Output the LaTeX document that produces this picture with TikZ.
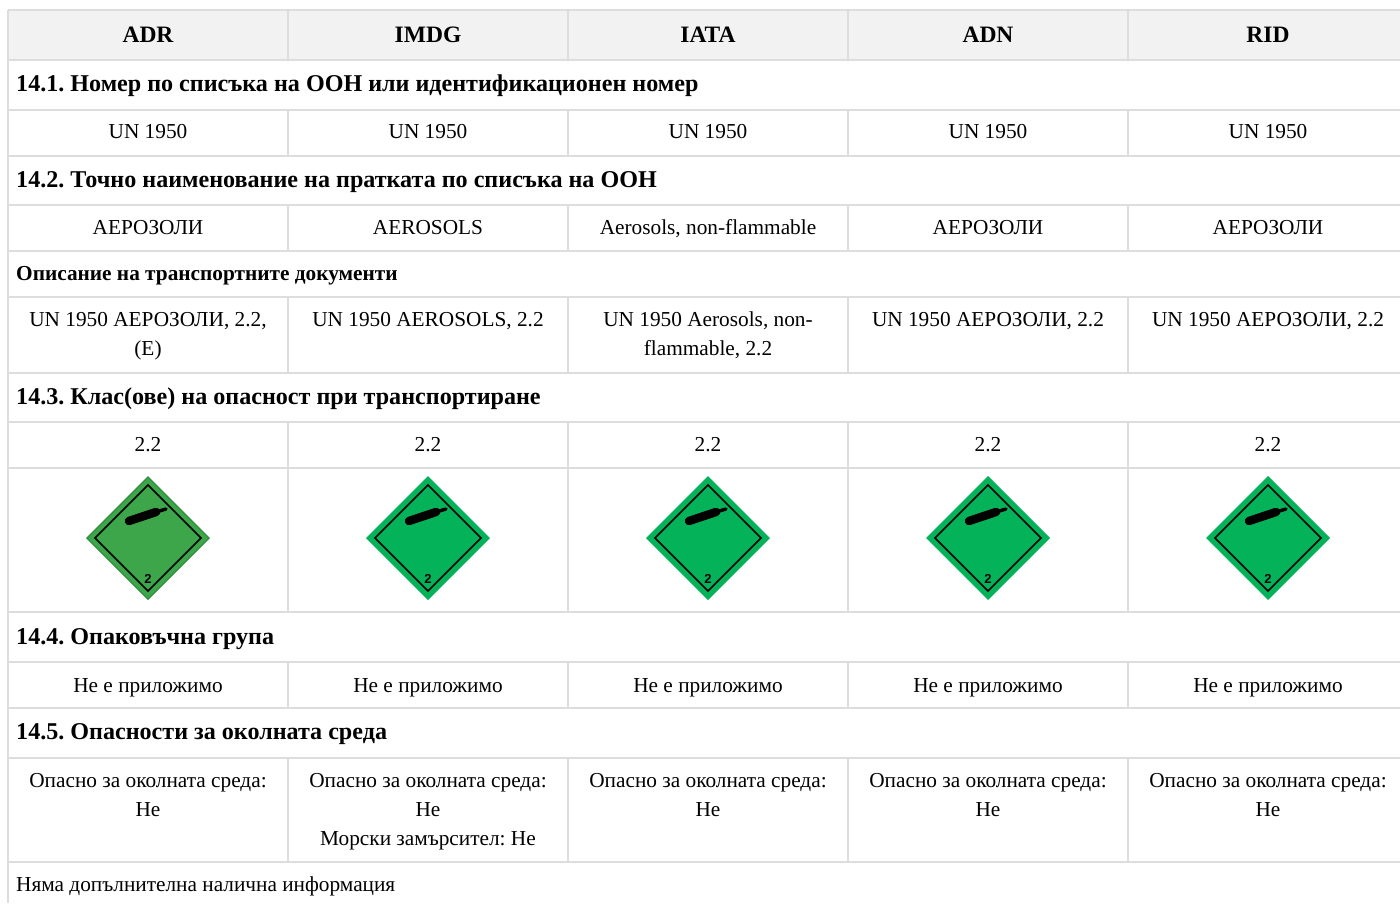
\documentclass[tikz,border=0pt]{standalone}
\usepackage{fontspec}
\setmainfont{Liberation Serif}
\setsansfont{Liberation Sans}
\frenchspacing
\definecolor{gridc}{HTML}{DDDDDD}
\definecolor{headbg}{HTML}{F2F2F2}
\definecolor{gA}{HTML}{3DA54A}
\definecolor{gAe}{HTML}{2F8F3E}
\definecolor{gB}{HTML}{04B25A}
\tikzset{
  gridline/.style={draw=gridc, line width=1.6pt},
  headtxt/.style={font=\fontsize{23.5}{28}\selectfont\bfseries, anchor=base, inner sep=0pt},
  sectxt/.style={font=\fontsize{24.1}{28}\selectfont\bfseries, anchor=base west, inner sep=0pt},
  subtxt/.style={font=\fontsize{21.3}{26}\selectfont\bfseries, anchor=base west, inner sep=0pt},
  celltxt/.style={font=\fontsize{21.3}{26}\selectfont, anchor=base, inner sep=0pt},
  plaintxt/.style={font=\fontsize{21.3}{26}\selectfont, anchor=base west, inner sep=0pt},
}
\newcommand{\hazsign}[4]{%
  \begin{scope}[shift={(#2,538)}]
    \coordinate (#1) at (0,0);
    \fill[#4] (0,-62) -- (62,0) -- (0,62) -- (-62,0) -- cycle;
    \fill[#3] (0,-60) -- (60,0) -- (0,60) -- (-60,0) -- cycle;
    \draw[black, line width=1.6pt, line join=miter] (0,-53) -- (53,0) -- (0,53) -- (-53,0) -- cycle;
    \draw[black, line width=8.5pt, line cap=round] (-19,-17) -- (8,-26);
    \draw[black, line width=3.4pt, line cap=round] (8,-26) -- (18,-29);
    \node[font=\fontsize{13}{14}\selectfont\sffamily\bfseries, inner sep=0pt] at (0,41) {2};
  \end{scope}}
\begin{document}
\begin{tikzpicture}[x=1pt, y=-1pt]
\useasboundingbox (0,0) rectangle (1400,903);
\fill[white] (0,0) rectangle (1400,903);
% header background
\fill[headbg] (8,10) rectangle (1400,60);
% horizontal lines
\foreach \yy in {10,60,110,156,205,251,297,373,422,468,612,662,708,758,862}
  \draw[gridline] (8,\yy) -- (1400,\yy);
\draw[gridline] (8,10) -- (8,903);
% vertical lines
\foreach \ya/\yb in {10/60,110/156,205/251,297/373,422/468,468/612,662/708,758/862}
  \foreach \xx in {288,568,848,1128}
    \draw[gridline] (\xx,\ya) -- (\xx,\yb);
% header
\node[headtxt] (hADR) at (148,42) {ADR};
\node[headtxt] (hIMDG) at (428,42) {IMDG};
\node[headtxt] (hIATA) at (708,42) {IATA};
\node[headtxt] (hADN) at (988,42) {ADN};
\node[headtxt] (hRID) at (1268,42) {RID};
% 14.1
\node[sectxt] (s141) at (16,91) {14.1. Номер по списъка на ООН или идентификационен номер};
\foreach \xx/\nm in {148/a,428/b,708/c,988/d,1268/e}
  \node[celltxt] (un\nm) at (\xx,138) {UN 1950};
% 14.2
\node[sectxt] (s142) at (16,187) {14.2. Точно наименование на пратката по списъка на ООН};
\node[celltxt] (nma) at (148,234) {АЕРОЗОЛИ};
\node[celltxt] (nmb) at (428,234) {AEROSOLS};
\node[celltxt] (nmc) at (708,234) {Aerosols, non-flammable};
\node[celltxt] (nmd) at (988,234) {АЕРОЗОЛИ};
\node[celltxt] (nme) at (1268,234) {АЕРОЗОЛИ};
\node[subtxt] (sdoc) at (16,280) {Описание на транспортните документи};
\node[celltxt] (dca) at (148,326) {UN 1950 АЕРОЗОЛИ, 2.2,};
\node[celltxt] (dca2) at (148,355) {(E)};
\node[celltxt] (dcb) at (428,326) {UN 1950 AEROSOLS, 2.2};
\node[celltxt] (dcc) at (708,326) {UN 1950 Aerosols, non-};
\node[celltxt] (dcc2) at (708,355) {flammable, 2.2};
\node[celltxt] (dcd) at (988,326) {UN 1950 АЕРОЗОЛИ, 2.2};
\node[celltxt] (dce) at (1268,326) {UN 1950 АЕРОЗОЛИ, 2.2};
% 14.3
\node[sectxt] (s143) at (16,404) {14.3. Клас(ове) на опасност при транспортиране};
\foreach \xx/\nm in {148/a,428/b,708/c,988/d,1268/e}
  \node[celltxt] (cl\nm) at (\xx,451) {2.2};
\hazsign{hza}{148}{gA}{gAe}
\hazsign{hzb}{428}{gB}{gB}
\hazsign{hzc}{708}{gB}{gB}
\hazsign{hzd}{988}{gB}{gB}
\hazsign{hze}{1268}{gB}{gB}
% 14.4
\node[sectxt] (s144) at (16,644) {14.4. Опаковъчна група};
\foreach \xx/\nm in {148/a,428/b,708/c,988/d,1268/e}
  \node[celltxt] (pg\nm) at (\xx,692) {Не е приложимо};
% 14.5
\node[sectxt] (s145) at (16,739) {14.5. Опасности за околната среда};
\foreach \xx/\nm in {148/a,428/b,708/c,988/d,1268/e}{
  \node[celltxt] (en\nm) at (\xx,787) {Опасно за околната среда:};
  \node[celltxt] (enn\nm) at (\xx,816) {Не};
}
\node[celltxt] (enm) at (428,845) {Морски замърсител: Не};
\node[plaintxt] (noinfo) at (16,891) {Няма допълнителна налична информация};
\end{tikzpicture}
\end{document}
